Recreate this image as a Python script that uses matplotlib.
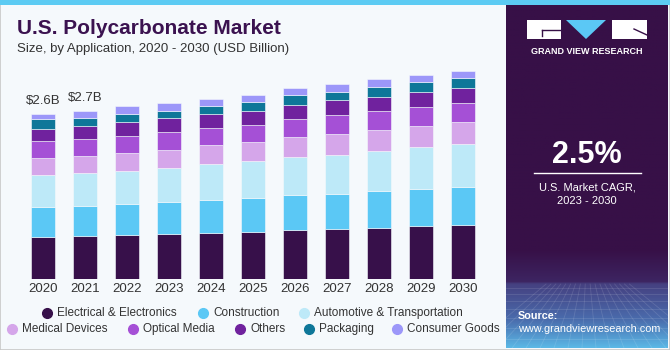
import matplotlib.pyplot as plt
import numpy as np
from matplotlib.patches import Rectangle, Polygon
from matplotlib.lines import Line2D

plt.rcParams['font.family'] = ['Liberation Sans', 'DejaVu Sans']

# Data (USD Billion)
years = ['2020', '2021', '2022', '2023', '2024', '2025',
         '2026', '2027', '2028', '2029', '2030']
electrical = [0.66, 0.68, 0.70, 0.71, 0.72, 0.74, 0.77, 0.79, 0.81, 0.84, 0.86]
construction = [0.48, 0.48, 0.49, 0.51, 0.53, 0.54, 0.55, 0.56, 0.58, 0.58, 0.60]
automotive = [0.50, 0.52, 0.52, 0.53, 0.56, 0.58, 0.60, 0.61, 0.64, 0.66, 0.67]
medical = [0.27, 0.27, 0.28, 0.29, 0.30, 0.30, 0.32, 0.33, 0.32, 0.34, 0.35]
optical = [0.27, 0.26, 0.27, 0.28, 0.27, 0.28, 0.29, 0.30, 0.31, 0.30, 0.30]
others = [0.19, 0.21, 0.22, 0.22, 0.22, 0.21, 0.22, 0.23, 0.22, 0.23, 0.23]
packaging = [0.15, 0.13, 0.13, 0.12, 0.13, 0.14, 0.15, 0.14, 0.15, 0.16, 0.16]
consumer = [0.09, 0.11, 0.12, 0.12, 0.12, 0.12, 0.12, 0.12, 0.13, 0.12, 0.12]

segment_names = ['Electrical & Electronics', 'Construction', 'Automotive & Transportation',
                 'Medical Devices', 'Optical Media', 'Others', 'Packaging', 'Consumer Goods']
segment_values = [electrical, construction, automotive, medical,
                  optical, others, packaging, consumer]
segment_colors = ['#37104a', '#5bc8f5', '#bde9f8', '#d5a6ea',
                  '#a550d6', '#70229e', '#0e7799', '#9c97f9']

value_labels = {0: '$2.6B', 1: '$2.7B'}

W, H = 670, 350
BG = '#f5f9fc'
DARK = '#371047'
TXT = '#333333'


def fx(x):
    return x / W


def fy(y):
    return 1 - y / H


fig = plt.figure(figsize=(6.7, 3.5), dpi=100)
fig.patch.set_facecolor(BG)

# Outer frame and top strip
fig.patches.append(Rectangle((0, 0), 1, 1, transform=fig.transFigure,
                             fill=False, edgecolor='#c8c8c8', linewidth=1.2))
fig.patches.append(Rectangle((0, fy(5)), 1, 5 / H, transform=fig.transFigure,
                             facecolor='#5ccbf3', edgecolor='none'))

# Bar chart
ax = fig.add_axes([fx(22), fy(279), 462 / W, 219 / H])
ax.set_facecolor(BG)
x = np.arange(len(years))
bottom = np.zeros(len(years))
for vals, col in zip(segment_values, segment_colors):
    ax.bar(x, vals, width=0.57, bottom=bottom, color=col,
           edgecolor=BG, linewidth=0.4)
    bottom += np.array(vals)

for i, txt in value_labels.items():
    ax.annotate(txt, (x[i], bottom[i]), xytext=(0, 5), textcoords='offset points',
                ha='center', va='bottom', fontsize=9.5, color=TXT)

ax.set_xlim(-0.5, len(years) - 0.5)
ax.set_ylim(0, 219 / 63.3)
ax.set_xticks(x)
ax.set_xticklabels(years, fontsize=9.5, color=TXT)
ax.tick_params(axis='x', length=0, pad=3)
ax.set_yticks([])
for s in ax.spines.values():
    s.set_visible(False)

# Titles
fig.text(fx(17), fy(28), 'U.S. Polycarbonate Market', fontsize=15, fontweight='bold',
         color='#3b1250', va='center', ha='left')
fig.text(fx(17), fy(49), 'Size, by Application, 2020 - 2030 (USD Billion)', fontsize=9.5,
         color=TXT, va='center', ha='left')

# Legend (two rows, drawn manually)
legend_rows = [
    [(0, 47, 313), (1, 203, 313), (2, 304, 313)],
    [(3, 12, 329), (4, 133, 329), (5, 240, 329), (6, 309, 329), (7, 397, 329)],
]
for row in legend_rows:
    for idx, mx, my in row:
        fig.add_artist(Line2D([fx(mx)], [fy(my)], marker='o', markersize=7,
                              color=segment_colors[idx], linestyle='none',
                              transform=fig.transFigure))
        fig.text(fx(mx + 10), fy(my), segment_names[idx], fontsize=8.5,
                 color=TXT, va='center', ha='left')

# Right panel with gradient
pan = fig.add_axes([fx(506), fy(348), 162 / W, 343 / H])
pan.set_xlim(506, 668)
pan.set_ylim(348, 5)
pan.axis('off')
ys = np.linspace(5, 348, 400)
stops_y = [5, 250, 282, 284, 320, 348]
stops_c = np.array([[0x37, 0x10, 0x47], [0x37, 0x10, 0x47], [0x3d, 0x25, 0x62],
                    [0x45, 0x40, 0x80], [0x4a, 0x6c, 0xad], [0x5b, 0xb8, 0xe6]]) / 255
grad = np.stack([np.interp(ys, stops_y, stops_c[:, k]) for k in range(3)], axis=1)
pan.imshow(grad[:, None, :], extent=[506, 668, 348, 5], aspect='auto')

# faint perspective mesh in the lower part
for yy in [288, 294, 301, 309, 318, 328, 339]:
    pan.plot([506, 668], [yy, yy], color='white', alpha=0.12, linewidth=0.6)
for xx in np.arange(470, 720, 14):
    pan.plot([587 + (xx - 587) * 0.35, xx], [284, 348], color='white',
             alpha=0.12, linewidth=0.6)

# Logo
pan.add_patch(Rectangle((527, 20), 34, 19, facecolor='white', edgecolor='none'))
pan.plot([542, 561], [30, 30], color=DARK, linewidth=1)
pan.plot([542, 542], [30, 36], color=DARK, linewidth=1)
pan.add_patch(Polygon([[566, 20], [606, 20], [586, 39]], closed=True,
                      facecolor='#5bc8f5', edgecolor='none'))
pan.add_patch(Rectangle((612, 20), 35, 19, facecolor='white', edgecolor='none'))
pan.plot([634, 647], [29, 35], color=DARK, linewidth=1)
pan.text(587, 51, 'GRAND VIEW RESEARCH', color='white', fontsize=6.5,
         fontweight='bold', ha='center', va='center')

# CAGR
pan.text(587, 155, '2.5%', color='white', fontsize=22, fontweight='bold',
         ha='center', va='center')
pan.plot([534, 641], [173, 173], color='white', linewidth=1)
pan.text(587, 187, 'U.S. Market CAGR,', color='white', fontsize=8,
         ha='center', va='center')
pan.text(587, 201, '2023 - 2030', color='white', fontsize=8,
         ha='center', va='center')

# Source
pan.text(518, 316, 'Source:', color='white', fontsize=7.8, fontweight='bold',
         ha='left', va='center')
pan.text(518, 329, 'www.grandviewresearch.com', color='white', fontsize=7.8,
         ha='left', va='center')

fig.savefig('out.png', dpi=100, facecolor=fig.get_facecolor())
